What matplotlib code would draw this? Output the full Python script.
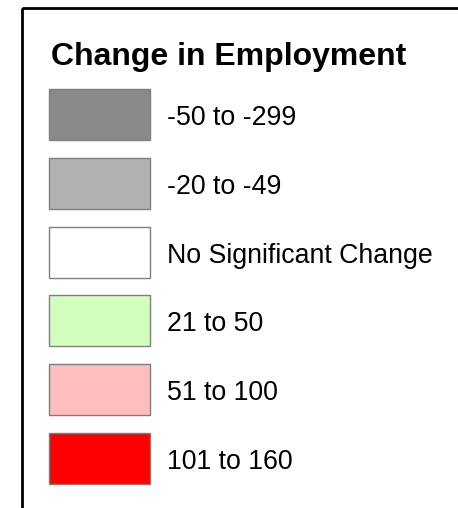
import matplotlib
matplotlib.use("Agg")
import matplotlib.pyplot as plt
from matplotlib.patches import Rectangle

title = "Change in Employment"
labels = ["-50 to -299", "-20 to -49", "No Significant Change",
          "21 to 50", "51 to 100", "101 to 160"]
colors = ["#898989", "#b2b2b2", "#ffffff", "#d3ffbe", "#ffbebe", "#ff0000"]

W, H = 458, 508
fig = plt.figure(figsize=(W / 100, H / 100), dpi=100)
ax = fig.add_axes([0, 0, 1, 1])
ax.set_xlim(0, W)
ax.set_ylim(H, 0)
ax.axis("off")

# frame (open to the right and bottom)
ax.add_patch(Rectangle((22, 8), W, H, fill=False, edgecolor="black", lw=2))

ax.text(51, 65, title, fontsize=23, fontweight="bold",
        family="Liberation Sans", va="baseline", ha="left")

top0, step, hgt = 89, 68.8, 51
ys = [top0 + i * step + hgt / 2 for i in range(len(labels))]
ax.barh(ys, [101] * len(labels), left=49, height=hgt, color=colors,
        edgecolor="#7f7f7f", linewidth=1)
for y, lab in zip(ys, labels):
    ax.text(167, y + 10.5, lab, fontsize=19.3, family="Liberation Sans",
            va="baseline", ha="left")

fig.savefig("out.png", dpi=100)
